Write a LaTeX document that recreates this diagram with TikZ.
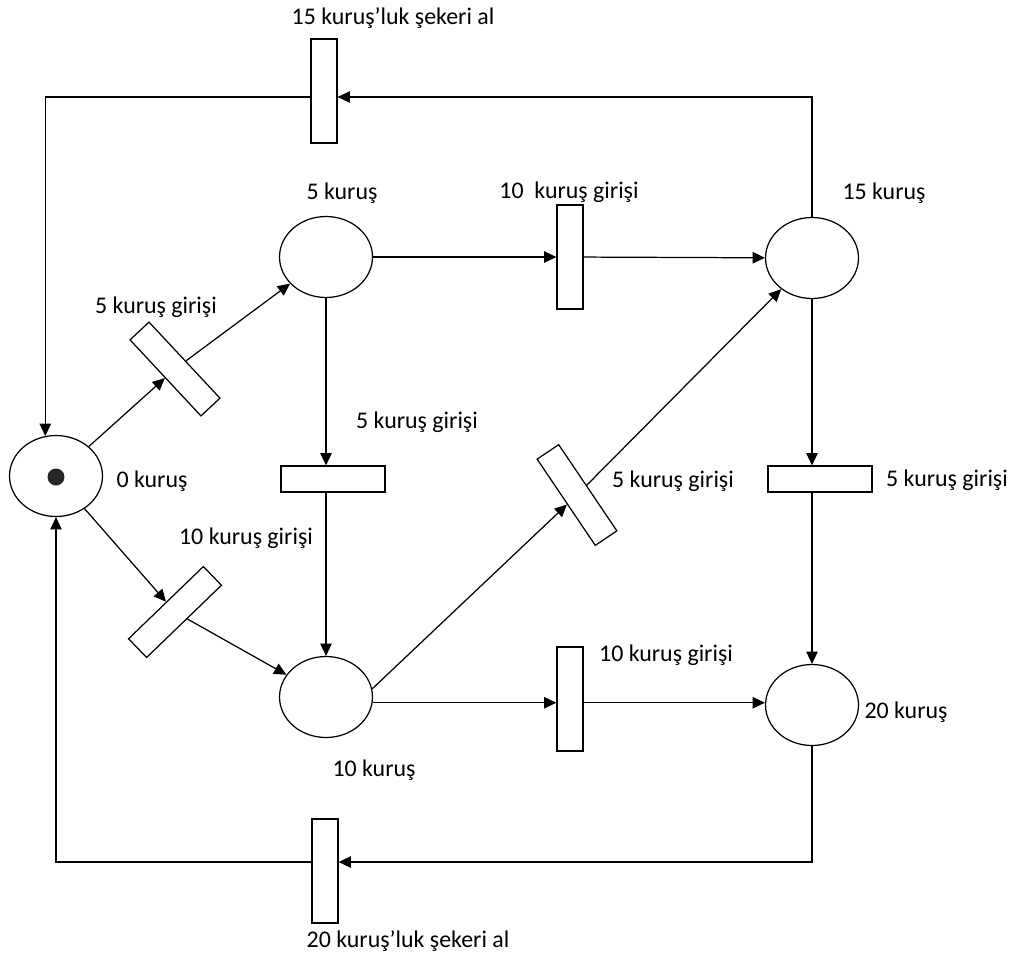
\documentclass[tikz,border=0pt]{standalone}
\usepackage{fontspec}
\setmainfont{Carlito}
\usetikzlibrary{arrows.meta,shapes.geometric,calc}
\tikzset{
    place/.style={draw,ellipse,line width=0.7pt,minimum width=1.86cm,minimum height=1.62cm,inner sep=0pt},
    htrans/.style={draw,rectangle,line width=0.7pt,minimum width=2.08cm,minimum height=0.52cm,inner sep=0pt},
    vtrans/.style={draw,rectangle,line width=0.7pt,minimum width=0.52cm,minimum height=2.08cm,inner sep=0pt},
    arc/.style={line width=0.7pt,-{Triangle[length=7pt,width=6.5pt]}},
    lbl/.style={font=\fontsize{13.6}{16}\selectfont,inner sep=0pt}
}
\begin{document}
\begin{tikzpicture}[x=0.02cm,y=-0.02cm]
    \useasboundingbox (0,0) rectangle (1020,957);

    % Places
    \node[place] (p_0) at (56,476) {};
    \node[place] (p_5) at (326,257) {};
    \node[place] (p_15) at (812,258) {};
    \node[place] (p_10) at (326,697) {};
    \node[place] (p_20) at (812,705) {};
    \fill[black!85] (56,477) circle (0.17cm);

    % Transitions
    \node[vtrans] (t_top) at (324,91) {};
    \node[vtrans] (t_bot) at (325,871) {};
    \node[vtrans] (t_10a) at (570,257) {};
    \node[vtrans] (t_10b) at (570,699) {};
    \node[htrans] (t_5a) at (333,479) {};
    \node[htrans] (t_5b) at (820,479) {};
    \node[htrans,rotate=-47] (t_d1) at (175,369) {};
    \node[htrans,rotate=44] (t_d2) at (175,612) {};
    \node[htrans,rotate=-56] (t_d3) at (577,495) {};

    % Arcs
    \draw[arc] (p_0) -- (t_d1);
    \draw[arc] (t_d1) -- (p_5);
    \draw[arc] (p_0) -- (t_d2);
    \draw[arc] (t_d2) -- (p_10);
    \draw[arc] (p_5) -- (t_10a);
    \draw[arc] (t_10a) -- (p_15);
    \draw[arc] (p_5.south) -- (p_5.south |- t_5a.north);
    \draw[arc] (p_10 |- t_5a.south) -- (p_10.north);
    \draw[arc] (p_10.10) -- (t_d3);
    \draw[arc] (t_d3) -- (p_15);
    \draw[arc] (p_10.-7) -- (p_10.-7 -| t_10b.west);
    \draw[arc] (t_10b.east |- p_10.-7) -- (p_10.-7 -| p_20.west);
    \draw[arc] (p_15.south) -- (p_15.south |- t_5b.north);
    \draw[arc] (p_20 |- t_5b.south) -- (p_20.north);
    \draw[arc] (p_15.north) |- ($(t_top.east)+(0,6)$);
    \draw[arc] ($(t_top.west)+(0,6)$) -| (p_0.105);
    \draw[arc] (p_20.south) |- ($(t_bot.east)+(0,-9)$);
    \draw[arc] ($(t_bot.west)+(0,-9)$) -| (p_0.south);

    % Labels
    \node[lbl] (l_top) at (393,18) {15 kuruş’luk şekeri al};
    \node[lbl] (l_bot) at (408,941) {20 kuruş’luk şekeri al};
    \node[lbl] (l_p5) at (342,193) {5 kuruş};
    \node[lbl] (l_p15) at (884,193) {15 kuruş};
    \node[lbl] (l_p0) at (152,481) {0 kuruş};
    \node[lbl] (l_p10) at (374,770) {10 kuruş};
    \node[lbl] (l_p20) at (906,712) {20 kuruş};
    \node[lbl] (l_10a) at (569,192) {10\ \ kuruş girişi};
    \node[lbl] (l_10b) at (666,655) {10 kuruş girişi};
    \node[lbl] (l_d1) at (156,307) {5 kuruş girişi};
    \node[lbl] (l_d2) at (246,538) {10 kuruş girişi};
    \node[lbl] (l_d3) at (673,481) {5 kuruş girişi};
    \node[lbl] (l_5a) at (417,422) {5 kuruş girişi};
    \node[lbl] (l_5b) at (947,480) {5 kuruş girişi};
\end{tikzpicture}
\end{document}
